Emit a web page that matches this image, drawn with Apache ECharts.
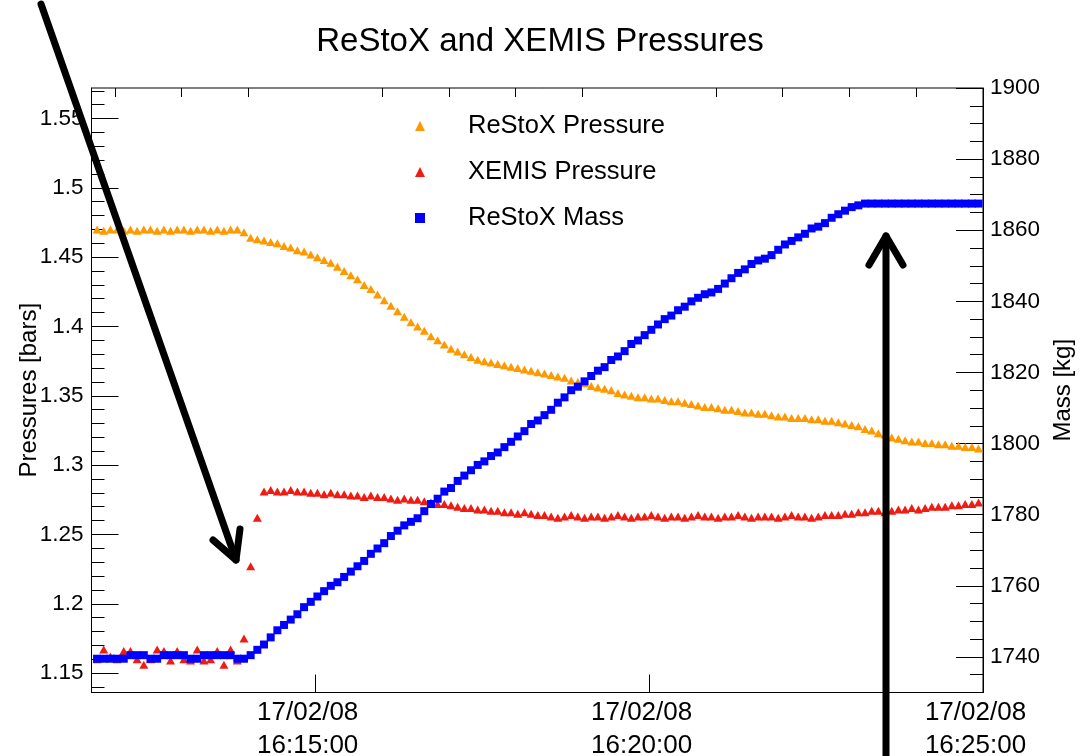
<!DOCTYPE html>
<html>
<head>
<meta charset="utf-8">
<script src="https://cdn.jsdelivr.net/npm/echarts@6/dist/echarts.min.js"></script>
<style>
  html, body { margin: 0; padding: 0; background: #fff; }
  #chart { width: 1080px; height: 756px; }
</style>
</head>
<body>
<div id="chart"></div>
<script>
// ---------------- data ----------------
const dateLabel = '17/02/08';
const startSec = 704;   // seconds after 16:00:00 of the first sample (16:11:44)
const stepSec = 6;      // sampling period (s)

const restoxPressure = [
  1.470,1.469,1.470,1.470,1.469,1.470,1.469,1.470,1.470,1.469,1.470,1.469,1.470,1.470,1.469,1.470,1.470,1.469,1.470,1.469,1.470,1.470,
  1.468,1.464,1.463,1.462,1.461,1.460,1.458,1.457,1.455,1.454,
  1.452,1.450,1.448,1.446,1.443,1.440,1.437,1.434,1.430,1.427,
  1.423,1.419,1.415,1.411,1.407,1.403,1.400,1.397,1.393,1.390,
  1.387,1.384,1.382,1.380,1.378,1.376,1.375,1.374,1.373,1.372,
  1.371,1.370,1.369,1.368,1.367,1.366,1.365,1.364,1.363,1.361,
  1.360,1.359,1.357,1.356,1.355,1.354,1.352,1.351,1.350,1.349,
  1.349,1.348,1.348,1.347,1.346,1.346,1.345,1.344,1.343,1.342,
  1.342,1.341,1.340,1.340,1.339,1.338,1.338,1.337,1.337,1.336,
  1.335,1.335,1.334,1.334,1.334,1.333,1.333,1.332,1.332,1.331,
  1.330,1.329,1.328,1.326,1.325,1.323,1.322,1.320,1.319,1.318,
  1.317,1.317,1.316,1.316,1.315,1.315,1.314,1.314,1.313,1.313,1.312
];

const xemisPressure = [
  1.160,1.167,1.162,1.160,1.166,1.166,1.160,1.156,1.160,1.167,
  1.166,1.159,1.166,1.160,1.159,1.167,1.159,1.160,1.166,1.156,
  1.167,1.159,1.175,1.227,1.262,
  1.281,1.282,1.281,1.281,1.282,1.281,1.281,
  1.280,1.280,1.279,1.280,1.279,1.279,
  1.278,1.278,1.277,1.278,1.277,1.277,
  1.276,1.275,1.276,1.275,1.275,1.274,
  1.273,1.272,1.272,1.271,1.270,
  1.269,1.269,1.268,1.268,1.267,
  1.267,1.266,1.266,1.265,1.266,1.265,1.264,1.264,
  1.263,1.262,1.263,1.264,1.263,1.262,1.263,1.263,1.262,1.263,
  1.264,1.263,1.262,1.263,1.263,1.264,1.263,1.262,1.263,1.263,
  1.262,1.263,1.264,1.263,1.263,1.262,1.263,1.263,1.264,1.263,
  1.262,1.263,1.263,1.263,1.262,1.263,1.264,1.263,1.263,1.262,
  1.263,1.264,1.264,
  1.264,1.265,1.265,1.266,1.266,1.267,1.267,1.266,1.267,1.268,
  1.268,1.269,1.268,1.269,1.270,1.270,1.270,1.271,1.271,1.272,
  1.272,1.273
];

const restoxMass = [
  1739.5,1739.5,1739.5,1739.5,1739.5,1740.5,1740.5,1740.5,1739.5,1739.5,
  1740.5,1740.5,1740.5,1740.5,1739.5,1739.5,1740.5,1740.5,1740.5,1740.5,
  1740.5,1739.5,1739.5,
  1740.5,1742.0,1743.5,1745.5,1747.5,1749.0,1750.5,1752.0,1754.0,1755.5,
  1757.0,1758.5,1760.0,1761.0,1762.5,1764.0,1765.5,1767.0,1769.0,1770.5,
  1772.0,1774.0,1775.5,1777.0,1778.0,1779.0,1781.0,1783.0,1784.5,1786.5,
  1787.5,1789.5,1791.0,1792.5,1794.0,1795.0,1796.5,1797.5,1799.0,1800.5,
  1802.0,1803.5,1805.5,1806.5,1808.0,1809.5,1811.5,1813.0,1815.0,1816.0,
  1817.5,1819.0,1820.5,1821.5,1823.5,1824.5,1826.0,1828.0,1829.0,1830.5,
  1832.0,1833.5,1835.0,1836.0,1837.5,1838.5,1840.0,1841.0,1842.0,1842.5,
  1843.5,1845.0,1846.5,1848.0,1849.0,1850.5,1851.5,1852.0,1853.0,1854.5,
  1856.0,1857.0,1858.0,1859.0,1860.5,1861.0,1862.0,1863.5,1864.5,1865.5,
  1866.5,1867.0,
  1867.5,1867.5,1867.5,1867.5,1867.5,1867.5,1867.5,1867.5,1867.5,1867.5,
  1867.5,1867.5,1867.5,1867.5,1867.5,1867.5,1867.5,1867.5
];

// axis ticks
const xMajorTicks = [900, 1200, 1500];
const xMinorTicks = [720, 780, 840, 960, 1020, 1080, 1140, 1260, 1320, 1380, 1440];
const pMajorTicks = [1.15, 1.2, 1.25, 1.3, 1.35, 1.4, 1.45, 1.5, 1.55];
const pMinorTicks = [1.14, 1.16, 1.17, 1.18, 1.19, 1.21, 1.22, 1.23, 1.24, 1.26, 1.27, 1.28, 1.29,
                     1.31, 1.32, 1.33, 1.34, 1.36, 1.37, 1.38, 1.39, 1.41, 1.42, 1.43, 1.44,
                     1.46, 1.47, 1.48, 1.49, 1.51, 1.52, 1.53, 1.54, 1.56, 1.57];
const mMajorTicks = [1740, 1760, 1780, 1800, 1820, 1840, 1860, 1880, 1900];
const mMinorTicks = [1730, 1735, 1745, 1750, 1755, 1765, 1770, 1775, 1785, 1790, 1795,
                     1805, 1810, 1815, 1825, 1830, 1835, 1845, 1850, 1855, 1865, 1870, 1875,
                     1885, 1890, 1895];

// ---------------- chart ----------------
const FONT = '"Liberation Sans", Arial, Helvetica, sans-serif';
const times = restoxPressure.map((_, i) => startSec + i * stepSec);
const pairs = arr => arr.map((v, i) => [times[i], v]);
const pad2 = n => (n < 10 ? '0' : '') + n;
const fmtTime = v => {
  const s = Math.round(v);
  return dateLabel + '\n' + (16 + Math.floor(s / 3600)) + ':' + pad2(Math.floor((s % 3600) / 60)) + ':' + pad2(s % 60);
};
const fmtP = v => String(parseFloat(Number(v).toFixed(2)));
const fmtM = v => String(Math.round(v));

const X_MIN = 699, X_MAX = 1500, P_MIN = 1.136, P_MAX = 1.572, M_MIN = 1730, M_MAX = 1900;
const black = '#000';

const chart = echarts.init(document.getElementById('chart'), null, { renderer: 'canvas' });

chart.setOption({
  animation: false,
  backgroundColor: '#fff',
  textStyle: { fontFamily: FONT },
  title: {
    text: 'ReStoX and XEMIS Pressures',
    left: 'center', top: 20,
    textStyle: { fontFamily: FONT, fontSize: 33, fontWeight: 'normal', color: black }
  },
  legend: {
    orient: 'vertical',
    left: 410, top: 108,
    itemWidth: 10, itemHeight: 10, itemGap: 20,
    textStyle: { fontFamily: FONT, fontSize: 25.5, lineHeight: 25, color: black, padding: [0, 0, 0, 38] },
    data: ['ReStoX Pressure', 'XEMIS Pressure', 'ReStoX Mass']
  },
  grid: {
    left: 91.5, right: 97, top: 88, bottom: 63.5,
    outerBoundsMode: 'none', containLabel: false,
    show: true, borderColor: black, borderWidth: 1, backgroundColor: 'transparent'
  },
  xAxis: [
    {
      type: 'value', min: X_MIN, max: X_MAX,
      axisLine: { show: true, lineStyle: { color: black, width: 1 } },
      axisTick: { show: true, inside: true, length: 18, customValues: xMajorTicks, lineStyle: { color: black } },
      axisLabel: { customValues: xMajorTicks, formatter: fmtTime, fontFamily: FONT, fontSize: 26, lineHeight: 33,
                   color: black, margin: 4, padding: [0, 15, 0, 0], hideOverlap: false },
      splitLine: { show: false }
    },
    {
      type: 'value', min: X_MIN, max: X_MAX,
      axisLine: { show: false },
      axisTick: { show: true, inside: true, length: 9, customValues: xMinorTicks, lineStyle: { color: black } },
      axisLabel: { show: false },
      splitLine: { show: false }
    }
  ],
  yAxis: [
    {
      type: 'value', position: 'left', min: P_MIN, max: P_MAX,
      name: 'Pressures [bars]', nameLocation: 'middle', nameGap: 50, nameRotate: 90, nameMoveOverlap: false,
      nameTextStyle: { fontFamily: FONT, fontSize: 24, color: black },
      axisLine: { show: true, lineStyle: { color: black, width: 1 } },
      axisTick: { show: true, inside: true, length: 27, customValues: pMajorTicks, lineStyle: { color: black } },
      axisLabel: { customValues: pMajorTicks, formatter: fmtP, fontFamily: FONT, fontSize: 22.5, color: black, margin: 8 },
      splitLine: { show: false }
    },
    {
      type: 'value', position: 'left', min: P_MIN, max: P_MAX,
      axisLine: { show: false },
      axisTick: { show: true, inside: true, length: 13, customValues: pMinorTicks, lineStyle: { color: black } },
      axisLabel: { show: false },
      splitLine: { show: false }
    },
    {
      type: 'value', position: 'right', min: M_MIN, max: M_MAX,
      name: 'Mass [kg]', nameLocation: 'middle', nameGap: 66, nameRotate: 90,
      nameTextStyle: { fontFamily: FONT, fontSize: 24, color: black },
      axisLine: { show: true, lineStyle: { color: black, width: 1 } },
      axisTick: { show: true, inside: true, length: 27, customValues: mMajorTicks, lineStyle: { color: black } },
      axisLabel: { customValues: mMajorTicks, formatter: fmtM, fontFamily: FONT, fontSize: 22.5, color: black, margin: 7 },
      splitLine: { show: false }
    },
    {
      type: 'value', position: 'right', min: M_MIN, max: M_MAX,
      axisLine: { show: false },
      axisTick: { show: true, inside: true, length: 13, customValues: mMinorTicks, lineStyle: { color: black } },
      axisLabel: { show: false },
      splitLine: { show: false }
    }
  ],
  series: [
    {
      name: 'ReStoX Pressure', type: 'scatter', xAxisIndex: 0, yAxisIndex: 0,
      symbol: 'triangle', symbolSize: [9, 8],
      itemStyle: { color: '#ff9900', opacity: 1 },
      data: pairs(restoxPressure), z: 2
    },
    {
      name: 'XEMIS Pressure', type: 'scatter', xAxisIndex: 0, yAxisIndex: 0,
      symbol: 'triangle', symbolSize: [9, 8],
      itemStyle: { color: '#ee1c12', opacity: 1 },
      data: pairs(xemisPressure), z: 3
    },
    {
      name: 'ReStoX Mass', type: 'scatter', xAxisIndex: 0, yAxisIndex: 2,
      symbol: 'rect', symbolSize: 8,
      itemStyle: { color: '#0000ff', opacity: 1 },
      data: pairs(restoxMass), z: 4
    }
  ],
  graphic: [
    // annotation arrow pointing at the XEMIS pressure jump
    { type: 'polyline', z: 100, shape: { points: [[41, 4], [236, 560]] },
      style: { stroke: black, lineWidth: 7, lineCap: 'round', lineJoin: 'round', fill: null } },
    { type: 'polyline', z: 100, shape: { points: [[213, 540], [236, 560], [240, 529]] },
      style: { stroke: black, lineWidth: 7, lineCap: 'round', lineJoin: 'round', fill: null } },
    // annotation arrow pointing at the mass plateau
    { type: 'polyline', z: 100, shape: { points: [[886, 760], [886, 236]] },
      style: { stroke: black, lineWidth: 7, lineCap: 'round', lineJoin: 'round', fill: null } },
    { type: 'polyline', z: 100, shape: { points: [[869, 265], [886, 236], [903, 265]] },
      style: { stroke: black, lineWidth: 7, lineCap: 'round', lineJoin: 'round', fill: null } }
  ]
});
</script>
</body>
</html>
